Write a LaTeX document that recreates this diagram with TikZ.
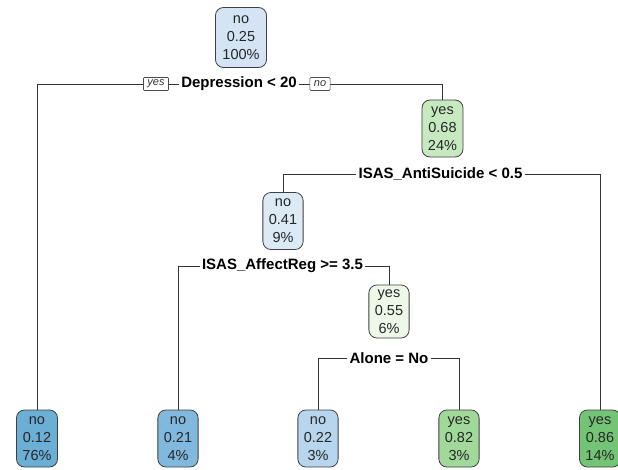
\documentclass[tikz,border=0pt]{standalone}
\usepackage{fontspec}
\setmainfont{Liberation Sans}
\definecolor{cRoot}{HTML}{D4E4F4}
\definecolor{cNtwo}{HTML}{C7E9C0}
\definecolor{cNthree}{HTML}{DCEAF6}
\definecolor{cNfour}{HTML}{EDF8E9}
\definecolor{cLa}{HTML}{6BAED6}
\definecolor{cLb}{HTML}{80B9DD}
\definecolor{cLc}{HTML}{B7D5EC}
\definecolor{cLd}{HTML}{A1D99B}
\definecolor{cLe}{HTML}{74C476}
\begin{document}
\begin{tikzpicture}[x=1pt,y=-1pt,
 box/.style={draw=black!75, rounded corners=8pt, line width=0.8pt, align=center, inner xsep=6pt, inner ysep=1pt, minimum height=57pt, font=\fontsize{14.5}{18}\selectfont, text=black!85},
 split/.style={font=\bfseries\fontsize{15}{16}\selectfont, inner xsep=2pt, inner ysep=1pt},
 tag/.style={draw=black!70, fill=white, line width=0.7pt, font=\itshape\fontsize{11}{12}\selectfont, text=black!80, inner xsep=4pt, inner ysep=1pt, minimum height=13pt, rounded corners=1pt},
 edge/.style={draw=black!80, line width=0.8pt}]
\useasboundingbox[fill=white] (0,0) rectangle (618,469);

% internal nodes
\node[box, fill=cRoot, minimum height=60pt, inner xsep=7pt] (root) at (241,37.5) {no\\0.25\\100\%};
\node[box, fill=cNtwo] (n2) at (442.5,128.5) {yes\\0.68\\24\%};
\node[box, fill=cNthree] (n3) at (283,221) {no\\0.41\\9\%};
\node[box, fill=cNfour, minimum height=53pt] (n4) at (389,311.5) {yes\\0.55\\6\%};

% leaves
\node[box, fill=cLa] (l1) at (37,438.5) {no\\0.12\\76\%};
\node[box, fill=cLb] (l2) at (178,438.5) {no\\0.21\\4\%};
\node[box, fill=cLc] (l3) at (318,438.5) {no\\0.22\\3\%};
\node[box, fill=cLd] (l4) at (459,438.5) {yes\\0.82\\3\%};
\node[box, fill=cLe] (l5) at (600,438.5) {yes\\0.86\\14\%};

% split labels
\node[split] (s1) at (239,84) {Depression < 20};
\node[split] (s2) at (440.5,174) {ISAS\_AntiSuicide < 0.5};
\node[split] (s3) at (282.5,266) {ISAS\_AffectReg >= 3.5};
\node[split] (s4) at (389,358) {Alone = No};

% branches
\draw[edge] (s1.west) -| (l1.north);
\draw[edge] (s1.east) -| (n2.north);
\draw[edge] (s2.west) -| (n3.north);
\draw[edge] (s2.east) -| (l5.north);
\draw[edge] (s3.west) -| (l2.north);
\draw[edge] (s3.east) -| (n4.north);
\draw[edge] (s4.west) -| (l3.north);
\draw[edge] (s4.east) -| (l4.north);

% yes / no tags
\node[tag] (ty) at (156,84) {yes};
\node[tag] (tn) at (320,84) {no};
\end{tikzpicture}
\end{document}
